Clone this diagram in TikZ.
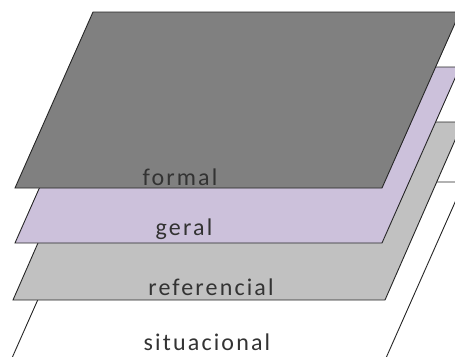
\documentclass[tikz,border=0pt]{standalone}
\usepackage{fontspec}
\usepackage{xcolor}
\newfontfamily\layerfont[LetterSpace=9]{Carlito}
\definecolor{formalgray}{RGB}{128,128,128}
\definecolor{lavender}{RGB}{204,193,219}
\definecolor{lightgray}{RGB}{193,193,193}

\begin{document}
\begin{tikzpicture} [
       x=1pt, y=-1pt,
       layer/.style={draw=black!85, line width=0.9pt, line join=miter},
       texte/.style={anchor=base, inner sep=0pt, text=black!80,
               font=\layerfont\fontsize{24}{28}\selectfont},
       ]
       \useasboundingbox (0,0) rectangle (455,356);
       \clip (0,0) rectangle (455,356);
       % planes, from back to front
       \draw [layer, fill=white]       (12,358) -- (386,358) -- (464,182) -- (90,182) -- cycle;
       \draw [layer, fill=lightgray]   (13,300) -- (385,300) -- (463,122) -- (91,122) -- cycle;
       \draw [layer, fill=lavender]    (15,243) -- (382,243) -- (460,67) -- (93,67) -- cycle;
       \draw [layer, fill=formalgray]  (15,188) -- (382,188) -- (460,12) -- (93,12) -- cycle;
       % labels
       \node (formal) [texte] at (180,185) {formal};
       \node (geral) [texte] at (184,235) {geral};
       \node (referencial) [texte] at (211,295) {referencial};
       \node (situacional) [texte] at (207,350) {situacional};
\end{tikzpicture}
\end{document}
